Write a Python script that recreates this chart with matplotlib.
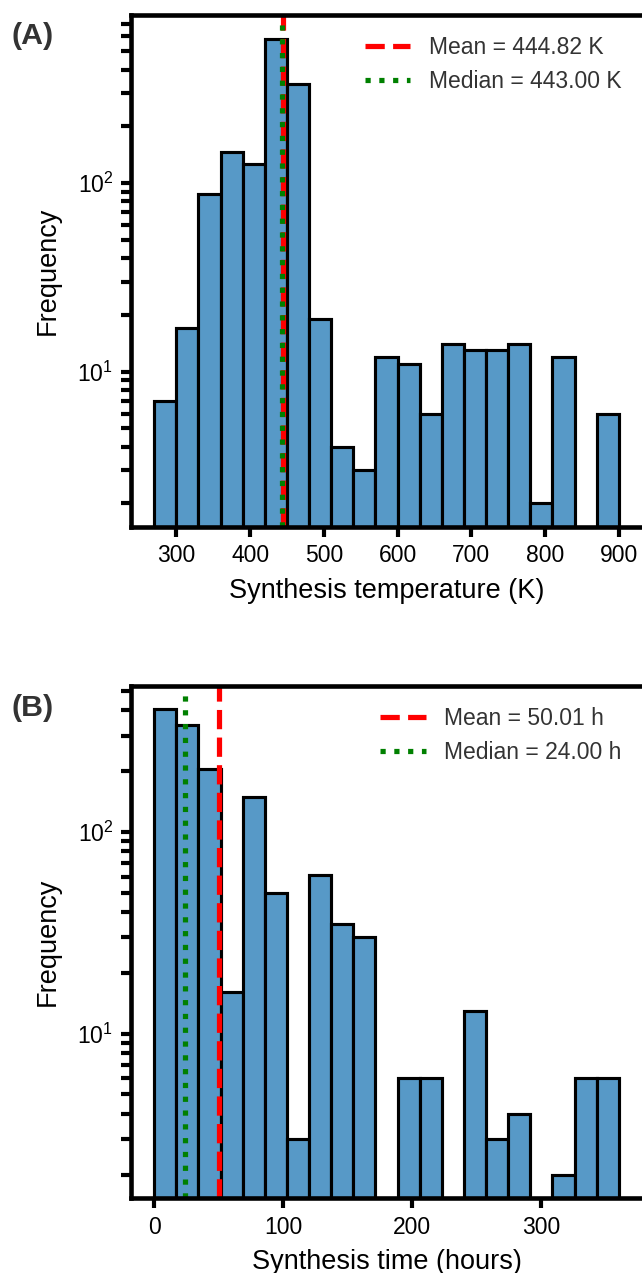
import matplotlib
matplotlib.use("Agg")
import matplotlib.pyplot as plt
import numpy as np

plt.rcParams["font.family"] = ["Liberation Sans", "DejaVu Sans"]
plt.rcParams["mathtext.fontset"] = "custom"
plt.rcParams["mathtext.rm"] = "Liberation Sans"
plt.rcParams["mathtext.it"] = "Liberation Sans:italic"
plt.rcParams["mathtext.bf"] = "Liberation Sans:bold"

# histogram data (21 bins each)
temp_edges = np.linspace(270, 900, 22)
temp_counts = [7, 17, 88, 147, 127, 585, 334, 19, 4, 3, 12, 11, 6, 14, 13, 13, 14, 2, 12, 0, 6]
temp_mean = 444.82
temp_median = 443.00

time_edges = np.linspace(0, 360, 22)
time_counts = [405, 339, 205, 16, 149, 50, 3, 61, 35, 30, 0, 6, 6, 0, 13, 3, 4, 0, 2, 6, 6]
time_mean = 50.01
time_median = 24.00

panels = [
    ("(A)", temp_edges, temp_counts, temp_mean, temp_median, "K", "Synthesis temperature (K)", [300, 400, 500, 600, 700, 800, 900]),
    ("(B)", time_edges, time_counts, time_mean, time_median, "h", "Synthesis time (hours)", [0, 100, 200, 300]),
]

W, H = 642, 1273
DPI = 150
face = (0.75 * 0.122 + 0.25, 0.75 * 0.467 + 0.25, 0.75 * 0.706 + 0.25)

fig = plt.figure(figsize=(W / DPI, H / DPI), dpi=DPI)
# axes boxes in pixels: left, top, bottom
boxes = [(131, 15.3, 526.7), (131, 686, 1198)]
label_tops = [22, 694]


def draw_panel(ax, edges, counts, mean, median, unit, xlabel, xticks):
    edges = np.asarray(edges, dtype=float)
    counts = np.asarray(counts, dtype=float)
    ax.hist(edges[:-1], bins=edges, weights=counts, color=face, edgecolor="black", linewidth=1.5)
    ax.set_yscale("log")
    pos = counts[counts > 0]
    lo, hi = np.log10(pos.min()), np.log10(pos.max())
    pad = 0.05 * (hi - lo)
    ax.set_ylim(10 ** (lo - pad), 10 ** (hi + pad))

    ax.axvline(mean, color="red", linestyle="--", linewidth=2.5, label=f"Mean = {mean:.2f} {unit}")
    ax.axvline(median, color="green", linestyle=":", linewidth=2.5, label=f"Median = {median:.2f} {unit}")

    ax.set_xticks(xticks)
    ax.set_xlabel(xlabel, fontsize=13, labelpad=5)
    ax.set_ylabel("Frequency", fontsize=13, labelpad=8)
    ax.tick_params(axis="both", which="both", width=2, length=5, labelsize=11, direction="out")
    ax.tick_params(axis="x", which="minor", bottom=False)
    for side in ("left", "bottom", "top"):
        ax.spines[side].set_linewidth(2.2)
    ax.spines["right"].set_visible(False)
    leg = ax.legend(loc="upper right", frameon=False, fontsize=11)
    for t in leg.get_texts():
        t.set_color("0.2")


for (tag, edges, counts, mean, median, unit, xlabel, xticks), (left, top, bottom), ly in zip(panels, boxes, label_tops):
    ax = fig.add_axes([left / W, 1 - bottom / H, (W - left) / W, (bottom - top) / H])
    draw_panel(ax, edges, counts, mean, median, unit, xlabel, xticks)
    fig.text(12 / W, 1 - ly / H, tag, fontsize=14.5, fontweight="bold", color="0.2", ha="left", va="top")

fig.savefig("out.png", dpi=DPI)
